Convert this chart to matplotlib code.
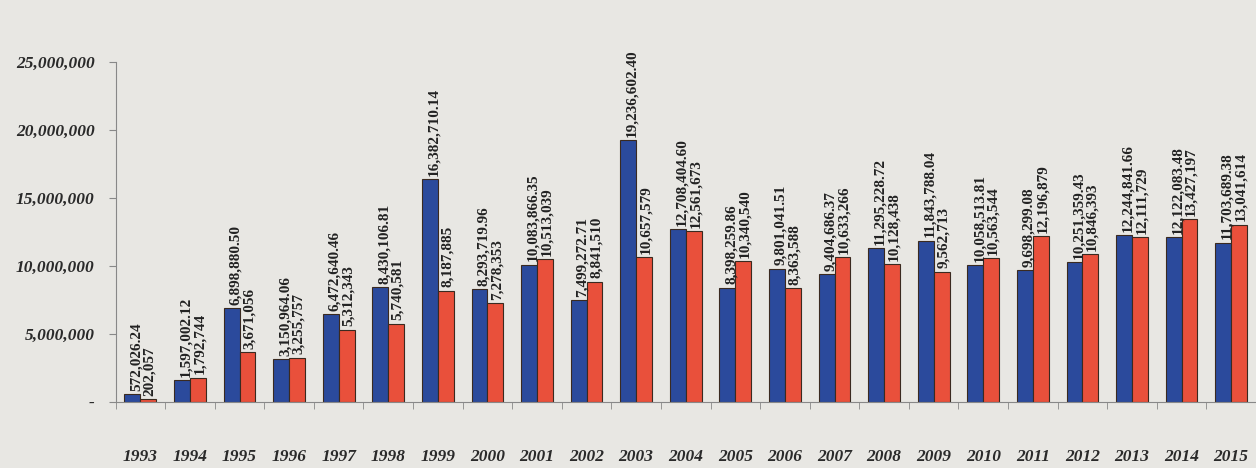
"""
Gráfico de barras agrupadas 1993-2015 (dos series)
"""

import matplotlib.pyplot as plt
import numpy as np
from matplotlib.ticker import FuncFormatter

years = [str(y) for y in range(1993, 2016)]

serie_azul = [572026.24, 1597002.12, 6898880.50, 3150964.06, 6472640.46,
              8430106.81, 16382710.14, 8293719.96, 10083866.35, 7499272.71,
              19236602.40, 12708404.60, 8398259.86, 9801041.51, 9404686.37,
              11295228.72, 11843788.04, 10058513.81, 9698299.08, 10251359.43,
              12244841.66, 12122083.48, 11703689.38]

serie_roja = [202057, 1792744, 3671056, 3255757, 5312343, 5740581, 8187885,
              7278353, 10513039, 8841510, 10657579, 12561673, 10340540,
              8363588, 10633266, 10128438, 9562713, 10563544, 12196879,
              10846393, 12111729, 13427197, 13041614]

fondo = '#e8e7e3'
azul = '#2b4a9c'
rojo = '#e9503b'
serif = ['Liberation Serif', 'DejaVu Serif']

fig = plt.figure(figsize=(12.56, 4.68), dpi=100, facecolor=fondo)
ax = fig.add_axes([0.092, 0.141, 0.908, 0.727])
ax.set_facecolor(fondo)

x = np.arange(len(years))
w = 0.32
b1 = ax.bar(x - w / 2, serie_azul, w, color=azul, edgecolor='#3a2a20', linewidth=0.8)
b2 = ax.bar(x + w / 2, serie_roja, w, color=rojo, edgecolor='#3a2a20', linewidth=0.8)

# etiquetas verticales sobre cada barra
for rect, v in zip(b1, serie_azul):
    ax.text(rect.get_x() + rect.get_width() * 0.75, rect.get_height() + 250000,
            f'{v:,.2f}', rotation=90, ha='center', va='bottom',
            fontsize=11, fontweight='bold', family=serif, color='#222222',
            clip_on=False)
for rect, v in zip(b2, serie_roja):
    ax.text(rect.get_x() + rect.get_width() * 0.6, rect.get_height() + 250000,
            f'{v:,.0f}', rotation=90, ha='center', va='bottom',
            fontsize=11, fontweight='bold', family=serif, color='#222222',
            clip_on=False)

ax.set_xlim(-0.3, 22.48)
ax.set_ylim(0, 25000000)
ax.set_yticks(range(0, 25000001, 5000000))
ax.yaxis.set_major_formatter(FuncFormatter(lambda v, p: '-' if v == 0 else f'{v:,.0f}'))

ax.set_xticks(x)
ax.set_xticklabels(years)
ax.set_xticks(np.arange(-0.5, len(years), 1.0), minor=True)
ax.tick_params(axis='x', which='major', length=0, pad=34)
ax.tick_params(axis='x', which='minor', length=5, color='#888888', direction='out')
ax.tick_params(axis='y', length=5, color='#888888', pad=10)

for lab in ax.get_xticklabels() + ax.get_yticklabels():
    lab.set_family(serif)
    lab.set_fontstyle('italic')
    lab.set_fontweight('bold')
    lab.set_fontsize(12.5)
    lab.set_color('#2a2a2a')

for s in ['top', 'right']:
    ax.spines[s].set_visible(False)
ax.spines['left'].set_color('#888888')
ax.spines['bottom'].set_color('#888888')

plt.savefig('out.png', dpi=100, facecolor=fondo)
plt.close()
